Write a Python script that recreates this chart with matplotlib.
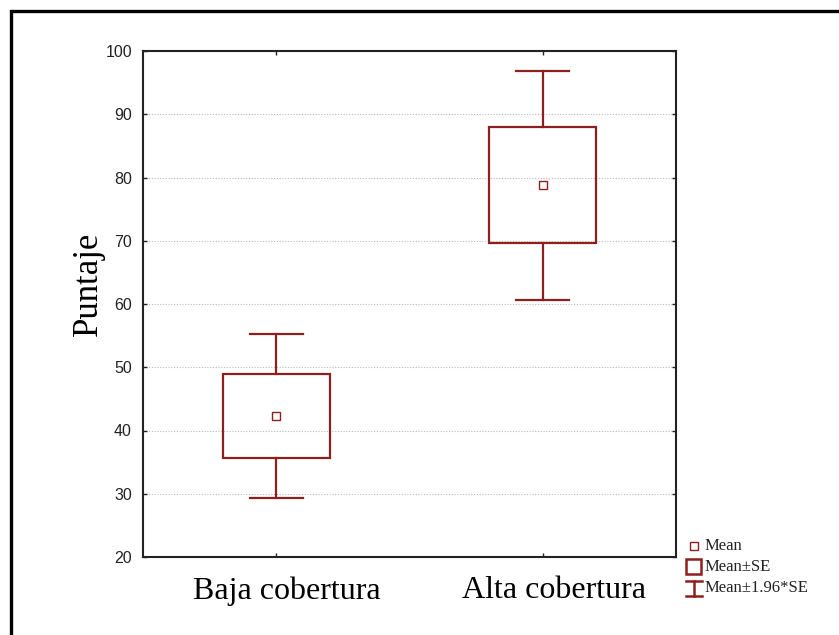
import matplotlib
matplotlib.use("Agg")
import matplotlib.pyplot as plt
from matplotlib.patches import Rectangle
from matplotlib.lines import Line2D
from matplotlib.transforms import ScaledTranslation

categories = ["Baja cobertura", "Alta cobertura"]
means = [42.3, 78.8]
se = [6.6, 9.2]
ci = [13.0, 18.1]  # 1.96*SE
yticks = [20, 30, 40, 50, 60, 70, 80, 90, 100]

color = "#8E1F1F"
serif = ["Liberation Serif", "DejaVu Serif"]
sans = ["Liberation Sans", "DejaVu Sans"]

fig = plt.figure(figsize=(8.39, 6.35), dpi=100)
W, H = 839, 635
ax = fig.add_axes([143 / W, 1 - 557 / H, (676 - 143) / W, (557 - 51) / H])

positions = list(range(1, len(categories) + 1))
box_w = 0.4
cap_w = 0.2
for x, m, s, c in zip(positions, means, se, ci):
    ax.add_patch(Rectangle((x - box_w / 2, m - s), box_w, 2 * s, fill=False,
                           edgecolor=color, linewidth=1.6, zorder=3))
    ax.plot([x, x], [m + s, m + c], color=color, linewidth=1.6, zorder=3)
    ax.plot([x, x], [m - s, m - c], color=color, linewidth=1.6, zorder=3)
    ax.plot([x - cap_w / 2, x + cap_w / 2], [m + c, m + c], color=color, linewidth=1.6, zorder=3)
    ax.plot([x - cap_w / 2, x + cap_w / 2], [m - c, m - c], color=color, linewidth=1.6, zorder=3)
    ax.plot([x], [m], marker="s", markersize=6, markerfacecolor="white",
            markeredgecolor=color, markeredgewidth=1.0, linestyle="none", zorder=4)

ax.set_xlim(0.5, len(categories) + 0.5)
ax.set_ylim(20, 100)
ax.set_yticks(yticks)
ax.set_yticklabels([str(t) for t in yticks], fontfamily=sans, fontsize=11.5)
ax.set_xticks(positions)
ax.set_xticklabels(categories, fontfamily=serif, fontsize=23)
ax.tick_params(axis="both", direction="in", length=3, width=1, top=True, right=True,
               colors="#222222")
ax.tick_params(axis="x", pad=14, labelcolor="black")
ax.tick_params(axis="y", pad=8, labelcolor="#222222")
ax.yaxis.grid(True, linestyle=(0, (1, 1.5)), color="#bbbbbb", linewidth=0.8)
ax.set_axisbelow(True)
for sp in ax.spines.values():
    sp.set_linewidth(1.5)
    sp.set_color("#222222")

# shift x tick labels slightly right as in the reference
offset = ScaledTranslation(11 / 100, 0, fig.dpi_scale_trans)
for lbl in ax.get_xticklabels():
    lbl.set_transform(lbl.get_transform() + offset)

fig.text(88 / W, 1 - 284 / H, "Puntaje", rotation=90, ha="center", va="center",
         fontfamily=serif, fontsize=25)

# outer frame (left and top edges visible)
fig.patches.append(Rectangle((11 / W, -0.1), 1.2, 1 - 11 / H + 0.1, transform=fig.transFigure,
                             fill=False, edgecolor="black", linewidth=2.4, zorder=0))

# legend
def fy(y):
    return 1 - y / H

fig.add_artist(Line2D([694 / W], [fy(546)], marker="s", markersize=6, markerfacecolor="white",
                      markeredgecolor=color, markeredgewidth=1.0, transform=fig.transFigure))
fig.patches.append(Rectangle((686 / W, fy(574)), 15 / W, 15 / H, transform=fig.transFigure,
                             fill=False, edgecolor=color, linewidth=1.8))
fig.add_artist(Line2D([694 / W, 694 / W], [fy(581), fy(596)], color=color, linewidth=1.8,
                      transform=fig.transFigure))
fig.add_artist(Line2D([686 / W, 702 / W], [fy(581), fy(581)], color=color, linewidth=1.8,
                      transform=fig.transFigure))
fig.add_artist(Line2D([686 / W, 702 / W], [fy(596), fy(596)], color=color, linewidth=1.8,
                      transform=fig.transFigure))
for label, y in [("Mean", 546), ("Mean±SE", 567), ("Mean±1.96*SE", 588)]:
    fig.text(705 / W, fy(y), label, ha="left", va="center", fontfamily=serif, fontsize=12,
             color="#222222")

fig.savefig("out.png", dpi=100)
